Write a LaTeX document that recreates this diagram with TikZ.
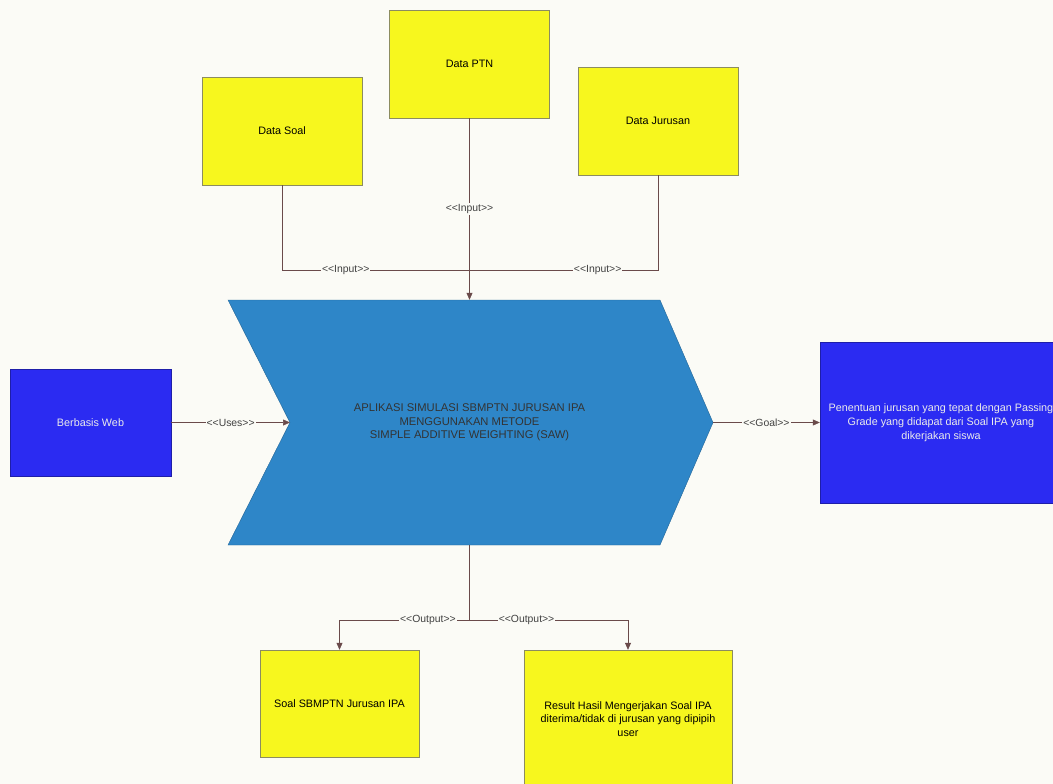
\documentclass[tikz,border=0pt]{standalone}
\usepackage{fontspec}
\setmainfont{Liberation Sans}
\usepackage{xcolor}
\definecolor{boxyellow}{HTML}{F7F71E}
\definecolor{yellowline}{HTML}{8C8C60}
\definecolor{boxblue}{HTML}{2B2BF2}
\definecolor{chevblue}{HTML}{2E86C8}
\definecolor{wire}{HTML}{6A4A4A}
\definecolor{paper}{HTML}{FBFBF6}
\usetikzlibrary{arrows.meta}
\newcommand\stlabel[1]{<\kern0pt<#1>\kern0pt>}

\begin{document}
\begin{tikzpicture}[x=1pt, y=-1pt, font=\fontsize{10.8}{13.8}\selectfont,
  databox/.style={draw=yellowline, fill=boxyellow, align=center, inner sep=0pt, minimum width=160pt, minimum height=108pt},
  bluebox/.style={draw=boxblue!70!black, fill=boxblue, text=white!92!black, align=center, inner sep=0pt},
  chev/.style={fill=chevblue, draw=chevblue!75!black, thin},
  apptext/.style={align=center, inner sep=0pt, minimum width=485pt, minimum height=245pt, text=black!80, font=\fontsize{11.2}{13.5}\selectfont},
  wire/.style={draw=wire, semithick},
  arr/.style={wire, -{Triangle[length=7pt,width=6pt]}},
  lbl/.style={fill=paper, inner sep=1pt, text=black!75, font=\fontsize{10.4}{12}\selectfont}]
  \clip (0,0) rectangle (1053,784);
  \fill[paper] (0,0) rectangle (1053,784);
  % input data
  \node[databox] (soal) at (282,131) {Data Soal};
  \node[databox] (ptn) at (469.5,64) {Data PTN};
  \node[databox] (jur) at (658,121) {Data Jurusan};
  % main application
  \coordinate (app-in) at (290,422.5);
  \coordinate (app-out) at (713,422.5);
  \filldraw[chev] (228,300) -- (660,300) -- (app-out) -- (660,545) -- (228,545) -- (app-in) -- cycle;
  \node[apptext] (app) at (469.5,422.5) {APLIKASI SIMULASI SBMPTN JURUSAN IPA\\ MENGGUNAKAN METODE\\ SIMPLE ADDITIVE WEIGHTING (SAW)};
  \node[bluebox, minimum width=161pt, minimum height=107pt] (web) at (90.5,422.5) {Berbasis Web};
  \node[bluebox, minimum width=242pt, minimum height=161pt, font=\fontsize{10.8}{14}\selectfont] (goal) at (941,422.5) {Penentuan jurusan yang tepat dengan Passing\\ Grade yang didapat dari Soal IPA yang\\ dikerjakan siswa};
  % outputs
  \node[databox, minimum width=159pt, minimum height=107pt] (soalout) at (339.5,703.5) {Soal SBMPTN Jurusan IPA};
  \node[databox, minimum width=208pt, minimum height=138pt] (result) at (628,719) {Result Hasil Mengerjakan Soal IPA\\ diterima/tidak di jurusan yang dipipih\\ user};
  % connectors
  \coordinate (join) at (469.5,270);
  \coordinate (split) at (469.5,620);
  \draw[wire] (soal) |- node[lbl, pos=0.67] {\stlabel{Input}} (join);
  \draw[wire] (jur) |- node[lbl, pos=0.66] {\stlabel{Input}} (join);
  \draw[arr] (ptn) -- node[lbl] {\stlabel{Input}} (app);
  \draw[arr] (web) -- node[lbl] {\stlabel{Uses}} (app-in);
  \draw[arr] (app-out) -- node[lbl] {\stlabel{Goal}} (goal);
  \draw[wire] (app) -- (split);
  \draw[arr] (split) -| node[lbl, pos=0.16] {\stlabel{Output}} (soalout);
  \draw[arr] (split) -| node[lbl, pos=0.18] {\stlabel{Output}} (result);
\end{tikzpicture}
\end{document}
